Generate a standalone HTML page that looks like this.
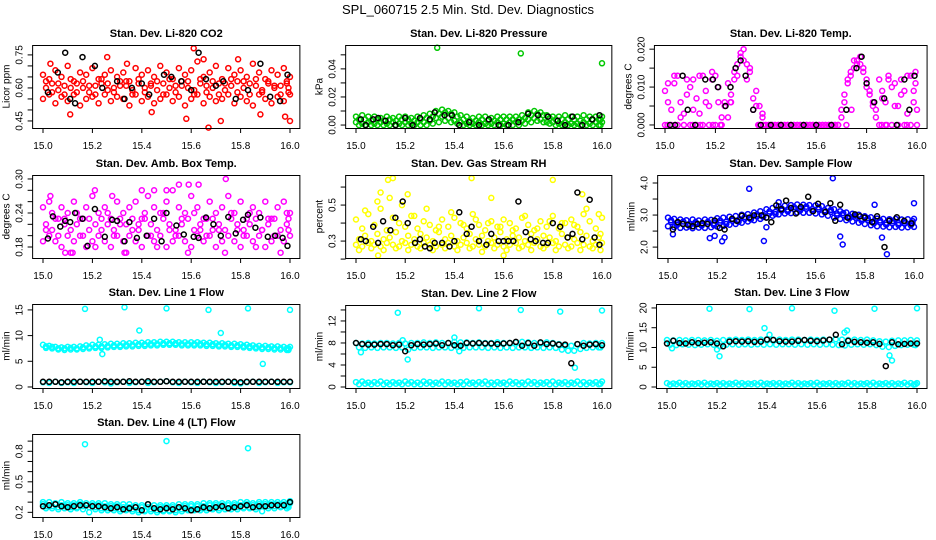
<!DOCTYPE html>
<html><head><meta charset="utf-8"><style>
body{margin:0;background:#fff}
svg{display:block;font-family:"Liberation Sans",sans-serif}
</style></head><body>
<svg id="chart" width="936" height="540" viewBox="0 0 936 540">
<text x="468" y="14" text-anchor="middle" font-size="13">SPL_060715  2.5 Min. Std. Dev. Diagnostics</text>
</svg>
<script>
// shared time axes (hours)
const times = [15.000,15.025,15.050,15.075,15.100,15.125,15.150,15.175,15.200,15.225,15.250,15.275,15.300,15.325,15.350,15.375,15.400,15.425,15.450,15.475,15.500,15.525,15.550,15.575,15.600,15.625,15.650,15.675,15.700,15.725,15.750,15.775,15.800,15.825,15.850,15.875,15.900,15.925,15.950,15.975,16.000];
const timesMid = [15.012,15.037,15.062,15.087,15.112,15.137,15.162,15.187,15.212,15.237,15.262,15.287,15.312,15.337,15.362,15.387,15.412,15.437,15.462,15.487,15.512,15.537,15.562,15.587,15.612,15.637,15.662,15.687,15.712,15.737,15.762,15.787,15.812,15.837,15.862,15.887,15.912,15.937,15.962,15.987,15.994];
const xTickValues = [15.0,15.2,15.4,15.6,15.8,16.0];
const xTickLabels = ["15.0","15.2","15.4","15.6","15.8","16.0"];

// Panel 1: CO2
const co2A = [0.66,0.64,0.68,0.65,0.70,0.63,0.67,0.66,0.69,0.64,0.66,0.68,0.65,0.67,0.63,0.69,0.66,0.68,0.65,0.70,0.67,0.64,0.69,0.66,0.68,0.72,0.65,0.67,0.70,0.64,0.69,0.66,0.68,0.65,0.71,0.67,0.64,0.68,0.66,0.69,0.65];
const co2B = [0.60,0.62,0.59,0.61,0.60,0.62,0.60,0.58,0.61,0.62,0.59,0.60,0.63,0.61,0.59,0.62,0.60,0.61,0.59,0.62,0.60,0.61,0.63,0.60,0.59,0.62,0.61,0.60,0.62,0.59,0.61,0.63,0.60,0.62,0.61,0.59,0.62,0.60,0.61,0.62,0.60];
const co2C = [0.55,0.57,0.53,0.56,0.54,0.57,0.52,0.55,0.56,0.53,0.57,0.54,0.56,0.55,0.52,0.57,0.54,0.56,0.53,0.55,0.57,0.54,0.56,0.52,0.55,0.57,0.53,0.56,0.54,0.55,0.57,0.53,0.56,0.54,0.52,0.57,0.55,0.53,0.56,0.54,0.57];
const co2D = [0.63,0.58,0.62,0.57,0.64,0.58,0.63,0.61,0.57,0.64,0.62,0.58,0.61,0.63,0.57,0.64,0.58,0.62,0.63,0.57,0.64,0.58,0.61,0.63,0.57,0.64,0.58,0.63,0.57,0.62,0.64,0.58,0.63,0.57,0.64,0.58,0.63,0.61,0.57,0.63,0.58];
const co2OutT = [15.03,15.11,15.26,15.34,15.58,15.61,15.65,15.67,15.72,15.79,15.88,15.98,16.0,15.44];
const co2OutV = [0.71,0.48,0.74,0.71,0.46,0.78,0.73,0.42,0.45,0.73,0.48,0.47,0.45,0.49];
const co2BlkT = [15.02,15.06,15.09,15.11,15.13,15.16,15.21,15.24,15.30,15.33,15.36,15.40,15.43,15.49,15.52,15.56,15.60,15.63,15.66,15.70,15.73,15.78,15.83,15.88,15.92,15.96,15.99];
const co2BlkV = [0.58,0.67,0.76,0.55,0.53,0.74,0.70,0.60,0.63,0.55,0.60,0.62,0.57,0.66,0.65,0.63,0.59,0.76,0.64,0.61,0.63,0.55,0.59,0.71,0.56,0.54,0.66];

// Panel 2: Pressure
const prA = [0.006,0.007,0.006,0.006,0.005,0.006,0.005,0.006,0.006,0.005,0.006,0.007,0.008,0.010,0.011,0.010,0.009,0.007,0.006,0.005,0.006,0.006,0.005,0.006,0.006,0.006,0.006,0.007,0.009,0.010,0.009,0.007,0.006,0.006,0.007,0.006,0.006,0.007,0.006,0.006,0.006];
const prB = [0.004,0.004,0.003,0.004,0.003,0.004,0.003,0.004,0.004,0.003,0.004,0.005,0.006,0.008,0.009,0.008,0.006,0.004,0.003,0.003,0.004,0.003,0.003,0.004,0.004,0.004,0.004,0.005,0.007,0.008,0.007,0.005,0.004,0.004,0.004,0.004,0.003,0.004,0.004,0.004,0.004];
const prC = [0.002,0.001,0.002,0.001,0.002,0.001,0.002,0.001,0.002,0.001,0.002,0.002,0.003,0.005,0.006,0.005,0.003,0.002,0.001,0.001,0.002,0.001,0.001,0.002,0.001,0.002,0.002,0.003,0.004,0.005,0.004,0.002,0.002,0.001,0.002,0.001,0.001,0.002,0.001,0.002,0.002];
const prD = [0,0,0,0,0,0,0,0,0,0,0,0,0.001,0.002,0.003,0.002,0.001,0,0,0,0,0,0,0,0,0,0,0.001,0.002,0.003,0.002,0.001,0,0,0,0,0,0,0,0,0];
const prOutT = [15.33,15.67,16.0];
const prOutV = [0.055,0.051,0.044];
const prBlkT = [15.02,15.04,15.07,15.09,15.12,15.16,15.20,15.23,15.26,15.30,15.32,15.36,15.39,15.42,15.46,15.50,15.54,15.58,15.62,15.66,15.70,15.74,15.78,15.82,15.85,15.88,15.92,15.96,15.99];
const prBlkV = [0.004,0.0,0.004,0.005,0.003,0.0,0.005,0.0,0.005,0.004,0.009,0.007,0.007,0.0,0.002,0.0,0.004,0.0,0.0,0.002,0.008,0.007,0.006,0.003,0.0,0.006,0.0,0.004,0.007];

// Panel 3: Li-820 Temp
const tmA = [0,0,0,0,0,0,0,0,0,0,0.002,0.012,0.019,0.016,0.004,0,0,0,0,0,0,0,0,0,0,0,0,0,0.002,0.012,0.017,0.018,0.012,0.006,0,0,0,0,0,0,0];
const tmB = [0.011,0.013,0.006,0.012,0.004,0.013,0.009,0.012,0.006,0.005,0.008,0.016,0.020,0.014,0.009,0.003,0,0,0,0,0,0,0,0,0,0,0,0,0.006,0.014,0.016,0.015,0.009,0.004,0.007,0.012,0.011,0.008,0.013,0.006,0.014];
const tmC = [0.009,0.004,0.013,0.003,0.010,0.007,0.013,0.005,0.013,0.002,0.011,0.014,0.018,0.012,0.007,0.005,0,0,0,0,0,0,0,0,0,0,0,0,0.004,0.011,0.015,0.016,0.010,0.005,0.012,0.006,0.010,0.005,0.009,0.013,0.004];
const tmD = [0.006,0.011,0.002,0.008,0.012,0.003,0.006,0.014,0.010,0.006,0.006,0.013,0.017,0.015,0.005,0.002,0,0,0,0,0,0,0,0,0,0,0,0,0.008,0.013,0.017,0.014,0.008,0.002,0.009,0.013,0.005,0.012,0.003,0.009,0.011];
const tmOutT = [15.01,15.04,15.11,15.14,15.19,15.22,15.26,15.37,15.39,15.72,15.74,15.86,15.88,15.96];
const tmOutV = [0,0,0,0,0,0,0.006,0,0,0,0.004,0,0,0];
const tmBlkT = [15.02,15.04,15.07,15.09,15.12,15.16,15.19,15.21,15.24,15.26,15.28,15.30,15.32,15.35,15.38,15.42,15.46,15.50,15.55,15.60,15.66,15.72,15.76,15.78,15.80,15.83,15.87,15.92,15.95,15.97,15.99];
const tmBlkV = [0,0,0.013,0.004,0,0.012,0.012,0.010,0.005,0.010,0.015,0.017,0.013,0.004,0,0,0,0,0,0,0,0.004,0.015,0.018,0.011,0.006,0.007,0,0.012,0.004,0.013];

// Panel 4: Amb box temp
const abA = [0.25,0.26,0.23,0.25,0.24,0.26,0.23,0.25,0.27,0.24,0.25,0.23,0.26,0.24,0.25,0.26,0.23,0.27,0.25,0.24,0.26,0.28,0.25,0.24,0.27,0.25,0.23,0.26,0.24,0.25,0.27,0.24,0.26,0.23,0.25,0.24,0.26,0.23,0.25,0.26,0.24];
const abB = [0.22,0.21,0.23,0.22,0.21,0.22,0.23,0.21,0.22,0.23,0.22,0.21,0.23,0.22,0.21,0.22,0.23,0.22,0.21,0.23,0.22,0.21,0.22,0.23,0.21,0.22,0.23,0.21,0.22,0.21,0.23,0.22,0.21,0.22,0.23,0.21,0.22,0.23,0.21,0.22,0.23];
const abC = [0.19,0.20,0.19,0.18,0.20,0.19,0.20,0.18,0.19,0.20,0.19,0.18,0.20,0.19,0.20,0.19,0.18,0.20,0.19,0.20,0.18,0.19,0.20,0.19,0.18,0.20,0.19,0.20,0.18,0.19,0.20,0.19,0.18,0.20,0.19,0.20,0.18,0.19,0.20,0.19,0.20];
const abD = [0.21,0.24,0.20,0.23,0.17,0.24,0.20,0.23,0.18,0.21,0.24,0.20,0.22,0.17,0.23,0.21,0.24,0.20,0.18,0.24,0.21,0.20,0.23,0.17,0.24,0.21,0.20,0.23,0.21,0.17,0.24,0.21,0.20,0.24,0.18,0.21,0.23,0.20,0.17,0.24,0.21];
const abOutT = [15.03,15.21,15.28,15.33,15.40,15.45,15.50,15.55,15.59,15.63,15.74,15.12,15.09];
const abOutV = [0.27,0.28,0.27,0.17,0.28,0.28,0.28,0.29,0.29,0.29,0.30,0.17,0.17];
const abBlkT = [15.02,15.04,15.07,15.09,15.11,15.13,15.16,15.18,15.21,15.25,15.28,15.30,15.33,15.35,15.38,15.42,15.45,15.48,15.50,15.54,15.57,15.61,15.63,15.66,15.69,15.72,15.75,15.78,15.81,15.83,15.86,15.88,15.91,15.94,15.97,15.99];
const abBlkV = [0.195,0.234,0.216,0.226,0.224,0.24,0.23,0.182,0.247,0.198,0.228,0.226,0.19,0.224,0.196,0.20,0.23,0.19,0.24,0.218,0.202,0.198,0.196,0.232,0.22,0.20,0.233,0.204,0.228,0.237,0.214,0.232,0.198,0.20,0.196,0.182];

// Panel 5: Gas stream RH
const rhA = [0.28,0.27,0.29,0.28,0.27,0.29,0.28,0.27,0.29,0.28,0.27,0.29,0.28,0.27,0.28,0.29,0.27,0.28,0.29,0.27,0.28,0.27,0.29,0.28,0.27,0.28,0.29,0.27,0.28,0.29,0.27,0.28,0.29,0.27,0.28,0.27,0.29,0.28,0.27,0.28,0.29];
const rhB = [0.31,0.33,0.30,0.34,0.31,0.32,0.35,0.30,0.33,0.31,0.34,0.32,0.30,0.35,0.31,0.33,0.30,0.32,0.34,0.31,0.33,0.30,0.32,0.35,0.31,0.33,0.32,0.30,0.34,0.31,0.33,0.32,0.30,0.34,0.32,0.31,0.35,0.33,0.30,0.32,0.34];
const rhC = [0.42,0.37,0.45,0.39,0.48,0.36,0.43,0.40,0.38,0.44,0.37,0.41,0.39,0.36,0.42,0.38,0.43,0.40,0.37,0.45,0.39,0.36,0.41,0.38,0.42,0.40,0.37,0.43,0.39,0.36,0.41,0.38,0.44,0.37,0.40,0.42,0.38,0.45,0.41,0.37,0.43];
const rhD = [0.25,0.47,0.26,0.52,0.25,0.54,0.26,0.50,0.25,0.44,0.26,0.48,0.25,0.38,0.26,0.46,0.25,0.39,0.26,0.42,0.24,0.40,0.26,0.38,0.25,0.36,0.26,0.44,0.25,0.37,0.26,0.41,0.25,0.40,0.26,0.39,0.25,0.48,0.26,0.45,0.25];
const rhOutT = [15.13,15.15,15.47,15.80,15.10,15.21,15.55,15.92,15.60,15.09];
const rhOutV = [0.64,0.65,0.65,0.64,0.57,0.56,0.54,0.56,0.22,0.22];
const rhBlkT = [15.02,15.04,15.07,15.09,15.11,15.14,15.16,15.19,15.21,15.24,15.26,15.28,15.30,15.32,15.35,15.38,15.40,15.42,15.45,15.47,15.50,15.53,15.55,15.58,15.60,15.62,15.64,15.66,15.69,15.71,15.73,15.76,15.78,15.80,15.83,15.86,15.88,15.90,15.92,15.95,15.97,15.99];
const rhBlkV = [0.31,0.30,0.38,0.29,0.41,0.36,0.43,0.52,0.40,0.29,0.31,0.27,0.26,0.29,0.29,0.27,0.30,0.46,0.34,0.38,0.30,0.28,0.34,0.30,0.30,0.30,0.30,0.52,0.35,0.31,0.30,0.29,0.29,0.40,0.38,0.32,0.34,0.57,0.31,0.53,0.32,0.28];

// Panel 6: Sample flow
const sfA = [2.92,2.88,2.86,2.84,2.86,2.83,2.86,2.85,2.90,2.92,2.95,2.97,3.01,3.03,3.08,3.12,3.18,3.22,3.27,3.29,3.31,3.33,3.32,3.31,3.30,3.28,3.22,3.18,3.12,3.08,3.04,3.01,2.96,2.93,2.89,2.88,2.87,2.88,2.86,2.87,2.88];
const sfB = [2.78,2.75,2.73,2.72,2.72,2.72,2.73,2.74,2.76,2.79,2.82,2.85,2.88,2.92,2.96,3.00,3.05,3.10,3.14,3.17,3.19,3.20,3.20,3.19,3.18,3.15,3.10,3.05,3.00,2.96,2.92,2.88,2.84,2.80,2.77,2.76,2.75,2.75,2.74,2.74,2.75];
const sfC = [2.65,2.62,2.60,2.61,2.59,2.61,2.60,2.62,2.64,2.66,2.70,2.72,2.76,2.80,2.84,2.88,2.92,2.98,3.02,3.05,3.06,3.08,3.07,3.07,3.05,3.02,2.98,2.92,2.88,2.84,2.80,2.76,2.72,2.68,2.65,2.64,2.62,2.63,2.61,2.62,2.63];
const sfD = [2.84,2.69,2.80,2.66,2.78,2.67,2.79,2.68,2.83,2.72,2.88,2.79,2.94,2.86,3.02,2.94,3.11,3.03,3.20,3.11,3.25,3.14,3.26,3.13,3.24,3.09,3.16,2.99,3.06,2.90,2.98,2.82,2.90,2.74,2.83,2.70,2.81,2.69,2.80,2.68,2.81];
const sfOutT = [15.02,15.17,15.19,15.22,15.23,15.33,15.39,15.40,15.67,15.70,15.71,15.84,15.87,15.89,16.0,15.45];
const sfOutV = [2.4,2.28,2.35,2.18,2.30,3.82,2.19,2.62,4.15,2.33,2.08,3.32,2.30,1.78,3.37,3.40];
const sfBlkT = [15.02,15.04,15.06,15.08,15.10,15.12,15.14,15.16,15.19,15.21,15.23,15.26,15.28,15.30,15.33,15.35,15.38,15.40,15.42,15.44,15.46,15.48,15.50,15.52,15.54,15.57,15.59,15.61,15.64,15.66,15.68,15.70,15.73,15.76,15.78,15.80,15.83,15.85,15.88,15.90,15.93,15.96,15.99];
const sfBlkV = [2.55,2.78,2.72,2.70,2.65,2.72,2.75,2.72,2.83,2.60,2.55,2.88,2.82,2.98,2.92,2.99,2.99,2.92,2.78,3.30,3.18,3.45,3.22,3.05,3.25,3.57,3.12,3.35,3.10,3.37,2.82,3.32,2.92,3.02,2.96,2.92,2.78,2.96,2.00,2.82,2.93,2.82,2.74];

// Panel 7: Line 1 flow
const l1A = [8.2,8.0,7.8,7.7,7.8,7.8,7.9,8.1,8.2,8.2,8.3,8.4,8.4,8.5,8.5,8.6,8.6,8.7,8.7,8.8,8.8,8.8,8.7,8.7,8.7,8.7,8.6,8.6,8.5,8.5,8.4,8.4,8.3,8.2,8.1,8.0,8.0,7.9,7.9,7.8,7.8];
const l1B = [7.6,7.5,7.3,7.2,7.3,7.3,7.4,7.5,7.6,7.6,7.7,7.8,7.8,7.9,7.9,8.0,8.0,8.1,8.1,8.2,8.2,8.2,8.1,8.1,8.1,8.1,8.0,8.0,7.9,7.9,7.8,7.8,7.7,7.6,7.5,7.4,7.4,7.3,7.3,7.2,7.2];
const l1C = [0.9,0.8,1.0,0.8,0.9,0.8,1.0,0.9,0.8,1.0,0.9,0.7,0.9,1.0,0.8,0.9,1.0,0.8,0.9,1.0,1.1,0.9,0.8,1.0,0.9,0.8,1.0,0.9,0.8,0.9,1.0,0.8,0.7,0.9,1.0,0.8,0.9,1.0,0.8,0.9,0.9];
const l1D = [7.9,7.8,7.5,7.5,7.6,7.5,7.7,7.8,7.9,7.9,8.0,8.1,8.1,8.2,8.2,8.3,8.3,8.4,8.4,8.5,8.5,8.5,8.4,8.4,8.4,8.4,8.3,8.3,8.2,8.2,8.1,8.1,8.0,7.9,7.8,7.7,7.7,7.6,7.6,7.5,7.5];
const l1OutT = [15.17,15.33,15.50,15.67,15.83,16.0,15.39,15.72,15.23,15.89,15.24];
const l1OutV = [15.2,15.5,15.3,15.0,15.3,15.0,11.0,10.5,9.2,4.5,6.4];
const l1BlkT = times;
const l1BlkV = [1.0,1.0,1.0,0.9,1.0,1.0,1.0,1.0,1.0,1.0,1.1,1.0,1.0,1.0,1.1,1.0,1.0,1.1,1.0,1.0,1.1,1.0,1.0,1.0,1.0,1.0,1.0,1.0,1.0,1.0,1.0,1.0,0.9,1.0,1.0,1.0,1.0,1.0,1.0,1.0,1.0];

// Panel 8: Line 2 flow
const l2A = [8.0,7.9,8.0,7.9,8.0,8.0,7.9,8.0,7.9,8.0,8.0,8.1,8.0,8.1,8.0,8.0,8.2,8.1,8.1,8.0,8.1,8.0,8.0,8.1,8.0,8.0,8.1,8.2,8.1,8.0,8.0,8.1,8.0,7.8,7.5,7.5,7.8,8.0,7.9,8.0,8.0];
const l2B = [7.2,7.1,7.2,7.1,7.2,7.2,7.1,7.2,6.8,7.1,7.2,7.2,7.1,7.2,7.2,7.1,7.3,7.1,7.2,7.2,7.2,7.1,7.2,7.1,7.2,7.1,7.2,7.2,7.1,7.2,7.1,7.2,7.1,6.8,6.6,6.6,6.9,7.1,7.2,7.2,7.2];
const l2C = [0.9,1.0,0.8,0.9,1.0,0.8,0.9,0.8,1.0,0.9,0.8,1.0,0.9,0.8,1.0,0.9,0.8,0.9,1.0,0.8,0.9,1.0,0.8,0.9,0.8,1.0,0.9,0.8,1.0,0.9,0.8,0.9,1.0,0.8,0.9,0.8,1.0,0.9,0.8,0.9,1.0];
const l2D = [0.5,0.6,0.5,0.6,0.5,0.5,0.6,0.5,0.6,0.5,0.5,0.6,0.5,0.6,0.5,0.6,0.5,0.5,0.6,0.5,0.6,0.5,0.5,0.6,0.5,0.6,0.5,0.5,0.6,0.5,0.6,0.5,0.5,0.6,0.5,0.6,0.5,0.5,0.6,0.5,0.6];
const l2OutT = [15.17,15.33,15.50,15.67,15.83,16.0,15.19,15.21,15.89,15.40,15.42,15.02];
const l2OutV = [13.5,14.3,14.3,14.0,13.7,13.9,8.5,5.0,3.5,9.0,6.5,6.3];
const l2BlkT = times;
const l2BlkV = [8.0,7.8,7.7,7.7,7.8,7.8,7.6,7.7,6.5,7.6,7.8,7.7,7.8,7.9,7.6,8.0,7.6,7.5,8.0,7.9,8.0,7.9,7.9,7.8,7.9,8.0,8.2,7.5,8.0,7.5,8.1,7.8,7.9,7.7,7.7,4.3,7.8,7.5,7.7,7.8,7.6];

// Panel 9: Line 3 flow
const l3A = [11.9,11.8,11.9,11.8,11.9,11.9,11.8,11.9,11.7,11.9,11.9,12.0,11.9,12.0,11.9,12.0,12.1,12.0,12.0,11.9,12.0,12.0,11.9,12.0,11.9,12.0,12.0,12.1,12.0,11.9,12.0,11.9,12.0,11.8,11.6,11.5,11.7,11.8,11.8,11.9,11.8];
const l3B = [10.7,10.6,10.8,10.7,10.6,10.7,10.8,10.7,10.3,10.7,10.8,10.7,10.8,10.7,10.8,10.7,10.8,10.7,10.8,10.8,10.7,10.8,10.7,10.8,10.7,10.8,10.7,10.6,10.5,10.7,10.8,10.7,10.8,10.6,10.2,10.1,10.4,10.6,10.7,10.7,10.6];
const l3C = [1.0,0.9,1.1,1.0,0.9,1.0,1.1,0.9,1.0,1.0,0.9,1.1,1.0,0.9,1.0,1.1,0.9,1.0,1.0,0.9,1.1,1.0,0.9,1.0,1.1,0.9,1.0,1.0,0.9,1.1,1.0,0.9,1.0,1.1,0.9,1.0,1.0,0.9,1.1,1.0,1.0];
const l3D = [0.6,0.7,0.6,0.6,0.7,0.6,0.6,0.7,0.6,0.6,0.7,0.6,0.6,0.7,0.6,0.6,0.7,0.6,0.6,0.7,0.6,0.6,0.7,0.6,0.6,0.7,0.6,0.6,0.7,0.6,0.6,0.7,0.6,0.6,0.7,0.6,0.6,0.7,0.6,0.6,0.7];
const l3OutT = [15.17,15.33,15.50,15.67,15.83,16.0,15.39,15.41,15.21,15.20,15.72,15.89,15.90,15.02,15.71];
const l3OutV = [19.8,19.7,19.9,19.3,19.8,19.9,14.9,13.2,7.8,9.5,14.3,8.0,6.7,9.8,13.8];
const l3BlkT = times;
const l3BlkV = [11.0,11.7,11.1,11.0,11.3,11.1,11.2,11.3,11.0,10.3,11.5,11.6,11.5,11.6,11.4,11.5,12.0,11.9,11.6,11.5,11.5,11.7,11.9,11.7,11.6,11.8,12.0,13.2,10.8,11.7,11.4,11.3,11.2,11.3,10.9,5.3,11.3,10.8,10.9,11.0,11.0];

// Panel 10: Line 4 (LT) flow
const l4A = [0.30,0.30,0.29,0.30,0.29,0.29,0.30,0.29,0.29,0.29,0.29,0.28,0.28,0.28,0.28,0.27,0.27,0.28,0.27,0.27,0.27,0.27,0.28,0.28,0.28,0.28,0.29,0.29,0.29,0.29,0.29,0.29,0.30,0.30,0.29,0.30,0.30,0.30,0.30,0.30,0.31];
const l4B = [0.26,0.26,0.25,0.26,0.25,0.25,0.26,0.25,0.25,0.24,0.24,0.24,0.23,0.23,0.23,0.22,0.22,0.23,0.22,0.22,0.22,0.22,0.23,0.23,0.23,0.24,0.24,0.24,0.24,0.25,0.25,0.25,0.25,0.25,0.25,0.26,0.26,0.26,0.26,0.26,0.27];
const l4C = [0.28,0.27,0.28,0.27,0.27,0.27,0.28,0.27,0.27,0.27,0.26,0.26,0.26,0.25,0.25,0.25,0.25,0.25,0.24,0.25,0.25,0.25,0.25,0.26,0.26,0.26,0.26,0.27,0.27,0.27,0.27,0.27,0.27,0.28,0.27,0.28,0.28,0.28,0.28,0.28,0.29];
const l4D = [0.24,0.24,0.23,0.24,0.23,0.24,0.23,0.20,0.23,0.22,0.22,0.22,0.21,0.22,0.21,0.20,0.21,0.21,0.20,0.21,0.21,0.20,0.21,0.22,0.22,0.22,0.22,0.23,0.22,0.23,0.23,0.23,0.24,0.24,0.23,0.21,0.24,0.24,0.25,0.24,0.25];
const l4OutT = [15.17,15.50,15.83];
const l4OutV = [0.87,0.90,0.83];
const l4BlkT = times;
const l4BlkV = [0.26,0.27,0.28,0.26,0.25,0.26,0.27,0.27,0.26,0.26,0.25,0.24,0.25,0.23,0.24,0.25,0.22,0.28,0.24,0.23,0.24,0.23,0.25,0.24,0.22,0.23,0.25,0.24,0.25,0.26,0.24,0.25,0.26,0.27,0.25,0.26,0.26,0.27,0.27,0.27,0.30];

const panels = [
 {name:"co2",title:"Stan. Dev. Li-820 CO2",ylab:"Licor ppm",col:"#ff0000",rows:[co2A,co2B,co2C,co2D],oT:co2OutT,oV:co2OutV,bT:co2BlkT,bV:co2BlkV,
  xa:43,xb:290,y0:45,y1:128,vTop:0.795,vBot:0.418,ticks:[0.45,0.5,0.55,0.6,0.65,0.7,0.75],labs:["0.45","","","0.60","","","0.75"]},
 {name:"pressure",title:"Stan. Dev. Li-820 Pressure",ylab:"kPa",col:"#00c800",rows:[prA,prB,prC,prD],oT:prOutT,oV:prOutV,bT:prBlkT,bV:prBlkV,
  xa:356,xb:602,y0:45,y1:128,vTop:0.057,vBot:-0.0021,ticks:[0,0.01,0.02,0.03,0.04,0.05],labs:["0.00","","0.02","","0.04",""]},
 {name:"temp",title:"Stan. Dev. Li-820 Temp.",ylab:"degrees C",col:"#ff00ff",rows:[tmA,tmB,tmC,tmD],oT:tmOutT,oV:tmOutV,bT:tmBlkT,bV:tmBlkV,
  xa:665,xb:917,y0:45,y1:128,vTop:0.0211,vBot:-0.0008,ticks:[0,0.005,0.01,0.015,0.02],labs:["0.000","","0.010","","0.020"]},
 {name:"amb-box-temp",title:"Stan. Dev. Amb. Box Temp.",ylab:"degrees C",col:"#ff00ff",rows:[abA,abB,abC,abD],oT:abOutT,oV:abOutV,bT:abBlkT,bV:abBlkV,
  xa:43,xb:290,y0:175,y1:258,vTop:0.307,vBot:0.1606,ticks:[0.18,0.2,0.22,0.24,0.26,0.28,0.3],labs:["0.18","","","0.24","","","0.30"]},
 {name:"gas-rh",title:"Stan. Dev. Gas Stream RH",ylab:"percent",col:"#ffff00",rows:[rhA,rhB,rhC,rhD],oT:rhOutT,oV:rhOutV,bT:rhBlkT,bV:rhBlkV,
  xa:356,xb:602,y0:175,y1:258,vTop:0.667,vBot:0.206,ticks:[0.2,0.3,0.4,0.5,0.6],labs:["","0.3","","0.5",""]},
 {name:"sample-flow",title:"Stan. Dev. Sample Flow",ylab:"ml/min",col:"#0000ff",rows:[sfA,sfB,sfC,sfD],oT:sfOutT,oV:sfOutV,bT:sfBlkT,bV:sfBlkV,
  xa:668,xb:914,y0:175,y1:258,vTop:4.25,vBot:1.66,ticks:[2,2.5,3,3.5,4],labs:["2.0","","3.0","","4.0"]},
 {name:"line1-flow",title:"Stan. Dev. Line 1 Flow",ylab:"ml/min",col:"#00ffff",rows:[l1A,l1B,l1C,l1D],oT:l1OutT,oV:l1OutV,bT:l1BlkT,bV:l1BlkV,
  xa:43,xb:290,y0:304,y1:388,vTop:16.15,vBot:-0.2,ticks:[0,5,10,15],labs:["0","5","10","15"]},
 {name:"line2-flow",title:"Stan. Dev. Line 2 Flow",ylab:"ml/min",col:"#00ffff",rows:[l2A,l2B,l2C,l2D],oT:l2OutT,oV:l2OutV,bT:l2BlkT,bV:l2BlkV,
  xa:356,xb:602,y0:305,y1:388,vTop:14.9,vBot:-0.18,ticks:[0,2,4,6,8,10,12,14],labs:["0","","4","","8","","12",""]},
 {name:"line3-flow",title:"Stan. Dev. Line 3 Flow",ylab:"ml/min",col:"#00ffff",rows:[l3A,l3B,l3C,l3D],oT:l3OutT,oV:l3OutV,bT:l3BlkT,bV:l3BlkV,
  xa:667,xb:917,y0:304,y1:388,vTop:21,vBot:-0.25,ticks:[0,5,10,15,20],labs:["0","5","10","15","20"]},
 {name:"line4-flow",title:"Stan. Dev. Line 4 (LT) Flow",ylab:"ml/min",col:"#00ffff",rows:[l4A,l4B,l4C,l4D],oT:l4OutT,oV:l4OutV,bT:l4BlkT,bV:l4BlkV,
  xa:43,xb:290,y0:434,y1:517,vTop:0.97,vBot:0.154,ticks:[0.2,0.3,0.4,0.5,0.6,0.7,0.8,0.9],labs:["0.2","","","0.5","","","0.8",""]}
];

const NS="http://www.w3.org/2000/svg";
const svg=document.getElementById('chart');
function mk(tag,attrs,parent){const e=document.createElementNS(NS,tag);for(const k in attrs)e.setAttribute(k,attrs[k]);parent.appendChild(e);return e;}

panels.forEach(p=>{
  const g=mk('g',{},svg);
  
  
  const sx=v=>p.xa+(v-15)*(p.xb-p.xa);
  const sy=v=>p.y1-(v-p.vBot)/(p.vTop-p.vBot)*(p.y1-p.y0);
  const x0=p.xa-0.04*(p.xb-p.xa)-0.5, x1=p.xb+0.04*(p.xb-p.xa);
  const cx=(x0+x1)/2;
  const t=mk('text',{x:cx,y:p.y0-8,'text-anchor':'middle','font-size':11,'font-weight':'bold'},g);
  t.textContent=p.title;
  
  
  const pts=mk('g',{fill:'none','stroke-width':1.5},g);
  
  
  const dot=(tv,vv,col)=>{
    if(vv===null||vv===undefined)return;
    const c=mk('circle',{cx:sx(tv).toFixed(1),cy:sy(vv).toFixed(1),r:2.5,stroke:col},pts);
    
    
  };
  p.rows.forEach((r,k)=>{const tt=(k%2===0)?times:timesMid; r.forEach((v,i)=>dot(tt[i],v,p.col));});
  p.oT.forEach((tv,i)=>dot(tv,p.oV[i],p.col));
  p.bT.forEach((tv,i)=>dot(tv,p.bV[i],'#000'));
  const b=mk('rect',{x:x0,y:p.y0+0.5,width:x1-x0,height:p.y1-p.y0,fill:'none',stroke:'#000','stroke-width':1},g);
  
  
  const xa=mk('g',{},g);
  
  
  mk('line',{x1:sx(15),x2:sx(16),y1:p.y1+0.5,y2:p.y1+0.5,stroke:'#000'},xa);
  xTickValues.forEach((v,i)=>{
    mk('line',{x1:sx(v),x2:sx(v),y1:p.y1,y2:p.y1+5,stroke:'#000'},xa);
    const l=mk('text',{x:sx(v),y:p.y1+21,'text-anchor':'middle','font-size':10},xa);
    l.textContent=xTickLabels[i];
    
    
  });
  const ya=mk('g',{},g);
  
  
  const lx=x0-14;
  p.ticks.forEach((v,i)=>{
    mk('line',{x1:x0-5,x2:x0,y1:sy(v),y2:sy(v),stroke:'#000'},ya);
    if(p.labs[i]){
      const l=mk('text',{x:lx,y:sy(v),'text-anchor':'middle','font-size':10,transform:`rotate(-90 ${lx} ${sy(v)})`,dy:4},ya);
      l.textContent=p.labs[i];
      
      
    }
  });
  const ty=(p.y0+p.y1)/2, tx=x0-27;
  const yt=mk('text',{x:tx,y:ty,'text-anchor':'middle','font-size':10,transform:`rotate(-90 ${tx} ${ty})`,dy:4},ya);
  yt.textContent=p.ylab;
  
  
});
</script>
</body></html>
